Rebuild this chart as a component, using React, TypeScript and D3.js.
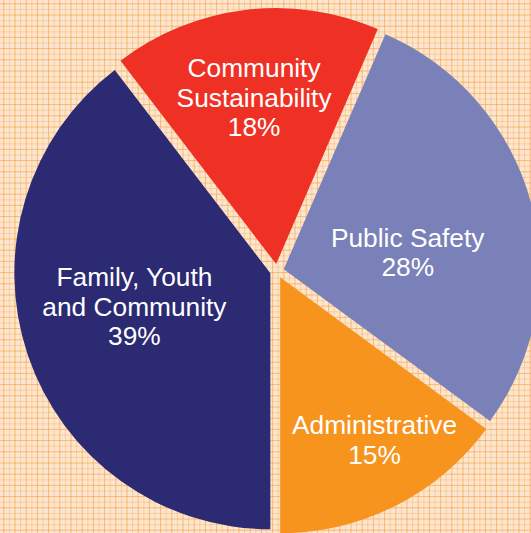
import React from "react";
import * as d3 from "d3";

const categories = ["Family, Youth and Community", "Community Sustainability", "Public Safety", "Administrative"];
const values = [39.6, 16.9, 28.6, 14.9];
// percentages as printed on the chart
const percentLabels = ["39%", "18%", "28%", "15%"];
const labelLines = [["Family, Youth", "and Community"], ["Community", "Sustainability"], ["Public Safety"], ["Administrative"]];
const sliceColors = ["#2b2a72", "#ee3124", "#7a81b8", "#f7941d"];

const W = 531;
const H = 533;

export default function App() {
  const cx = 277;
  const cy = 271;
  const r = 256;
  const explode = 7;
  const lineH = 29.5;
  const fontSize = 26.3;
  // label layout: radius from center and angle shift (deg) relative to slice bisector
  const labelRadius = [147, 175, 132, 195];
  const labelShift = [4.6, -0.5, 7.1, -3.2];

  const pie = d3
    .pie<number>()
    .sort(null)
    .value((d) => d)
    .startAngle(Math.PI)
    .endAngle(3 * Math.PI);
  const arcs = pie(values);
  const arc = d3.arc<d3.PieArcDatum<number>>().innerRadius(0).outerRadius(r);

  const step = 5.6;
  const xs = d3.range(3.8, W, step);
  const ys = d3.range(3.8, H, step);

  return (
    <svg
      width={W}
      height={H}
      style={{ position: "fixed", left: 0, top: 0, display: "block" }}
      fontFamily="'Liberation Sans', Arial, Helvetica, sans-serif"
    >
      <rect x={0} y={0} width={W} height={H} fill="#fde6cf" />
      <g>
        {xs.map((x, i) => (
          <line key={"vx" + i} x1={x} x2={x} y1={0} y2={H} stroke="#f6a445" strokeWidth={1} opacity={i % 2 ? 0.35 : 0.65} />
        ))}
        {ys.map((y, i) => (
          <line key={"hy" + i} x1={0} x2={W} y1={y} y2={y} stroke="#f6a445" strokeWidth={1} opacity={i % 2 ? 0.35 : 0.65} />
        ))}
      </g>
      {arcs.map((a, i) => {
        const mid = (a.startAngle + a.endAngle) / 2;
        const ox = cx + explode * Math.sin(mid);
        const oy = cy - explode * Math.cos(mid);
        return (
          <path key={categories[i]} d={arc(a) || ""} transform={`translate(${ox},${oy})`} fill={sliceColors[i]} />
        );
      })}
      {arcs.map((a, i) => {
        const mid = (a.startAngle + a.endAngle) / 2 + (labelShift[i] * Math.PI) / 180;
        const lx = cx + labelRadius[i] * Math.sin(mid);
        const ly = cy - labelRadius[i] * Math.cos(mid);
        const lines = [...labelLines[i], percentLabels[i]];
        const n = lines.length;
        return (
          <text key={"t" + i} fill="#ffffff" fontSize={fontSize} textAnchor="middle">
            {lines.map((s, j) => (
              <tspan key={j} x={lx} y={ly + (j - (n - 1) / 2) * lineH + 9}>
                {s}
              </tspan>
            ))}
          </text>
        );
      })}
    </svg>
  );
}
